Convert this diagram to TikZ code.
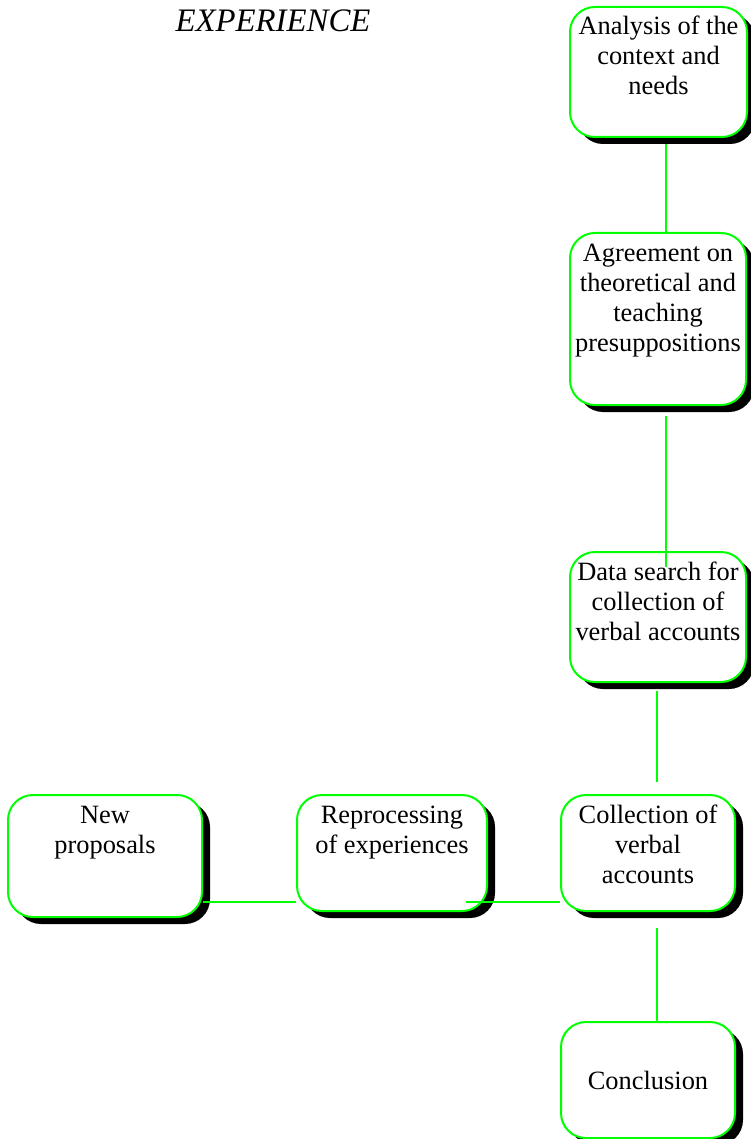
\documentclass[tikz,border=0pt]{standalone}
\usepackage{fontspec}
\setmainfont{Liberation Serif}
\usepackage{xcolor}
\usetikzlibrary{shadows}

\definecolor{stepgreen}{RGB}{0,255,0}
% text hanging from the top of a box, or centred in it
\newcommand{\toptext}[3]{\parbox[c][#2][t]{#1}{\centering\fontsize{13.2}{15}\selectfont\vspace*{3.5pt}\strut #3}}
\newcommand{\midtext}[3]{\parbox[c][#2][c]{#1}{\centering\fontsize{13.2}{15}\selectfont #3}}

\begin{document}
\begin{tikzpicture}[
    x=0.5pt,
    y=-0.5pt,
    stepbox/.style={draw=stepgreen, line width=1pt, rounded corners=12.5pt, fill=white, inner sep=0pt,
        drop shadow={shadow xshift=4pt, shadow yshift=-3.5pt, fill=black, opacity=1}},
    link/.style={draw=stepgreen, line width=1pt}
]
    \useasboundingbox (0,0) rectangle (750,1139);

    % Title
    \node[font=\fontsize{16.4}{19}\selectfont\itshape, anchor=base] (title) at (273,31.5) {EXPERIENCE};

    % Column of steps
    \node[stepbox] (analysis) at (658.5,72) {\toptext{88.5pt}{65pt}{Analysis of the\\ context and\\ needs}};
    \node[stepbox] (agreement) at (658,319) {\toptext{88pt}{86pt}{Agreement on\\ theoretical and\\ teaching\\ presuppositions}};
    \node[stepbox] (search) at (658,617) {\toptext{88pt}{65pt}{Data search for\\ collection of\\ verbal accounts}};
    \node[stepbox] (collection) at (648,853) {\toptext{87pt}{58pt}{Collection of\\ verbal\\ accounts}};
    \node[stepbox] (conclusion) at (648,1080) {\midtext{87pt}{58pt}{Conclusion}};

    % Row of steps
    \node[stepbox] (reprocessing) at (392,853) {\toptext{95pt}{58pt}{Reprocessing\\ of experiences}};
    \node[stepbox] (proposals) at (105,856) {\toptext{97pt}{61pt}{New\\ proposals}};

    % Connectors
    \draw[link] ([xshift=3.75pt,yshift=-3pt]analysis.south) -- ([xshift=4pt]agreement.north);
    \draw[link] ([xshift=4pt,yshift=-5pt]agreement.south) -- ([xshift=4pt,yshift=-8pt]search.north);
    \draw[link] ([xshift=-0.5pt,yshift=-4pt]search.south) -- ([xshift=4.5pt,yshift=6pt]collection.north);
    \draw[link] ([xshift=4.5pt,yshift=-8pt]collection.south) -- ([xshift=4.5pt]conclusion.north);
    \draw[link] ([xshift=-11pt,yshift=-24.5pt]reprocessing.east) -- ([yshift=-24.5pt]collection.west);
    \draw[link] ([yshift=-23pt]proposals.east) -- ([yshift=-24.5pt]reprocessing.west);
\end{tikzpicture}
\end{document}
